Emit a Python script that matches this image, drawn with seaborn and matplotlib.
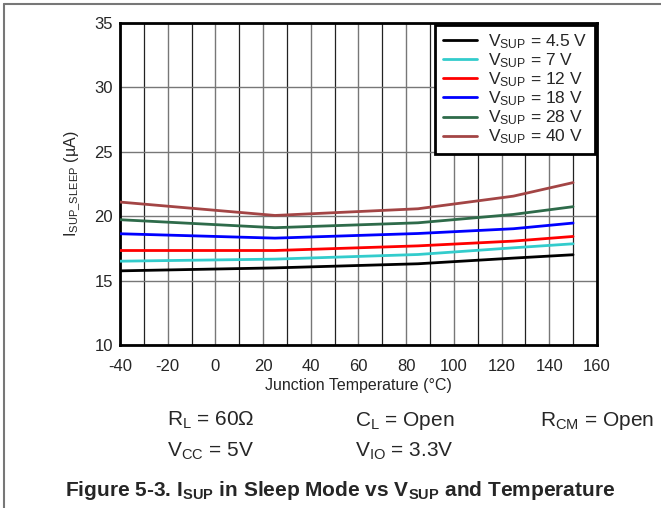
import matplotlib
matplotlib.use("Agg")
import matplotlib.pyplot as plt
import numpy as np
import pandas as pd
import seaborn as sns

sns.set_style("white")
plt.rcParams["font.family"] = ["Liberation Sans", "DejaVu Sans"]
plt.rcParams["mathtext.fontset"] = "custom"
plt.rcParams["mathtext.rm"] = "Liberation Sans"
plt.rcParams["mathtext.it"] = "Liberation Sans:italic"
plt.rcParams["mathtext.bf"] = "Liberation Sans:bold"
plt.rcParams["axes.unicode_minus"] = False

# data
temps = [-40, 25, 85, 125, 150]
vsup_labels = ["4.5", "7", "12", "18", "28", "40"]
i_45 = [15.75, 15.98, 16.30, 16.74, 17.00]
i_7 = [16.50, 16.66, 17.02, 17.54, 17.85]
i_12 = [17.33, 17.33, 17.69, 18.06, 18.42]
i_18 = [18.63, 18.29, 18.65, 19.02, 19.46]
i_28 = [19.72, 19.10, 19.48, 20.13, 20.73]
i_40 = [21.09, 20.05, 20.57, 21.55, 22.60]
series = [i_45, i_7, i_12, i_18, i_28, i_40]
colors = ["#000000", "#33cccc", "#ff0000", "#0000ff", "#2e6b4a", "#a34545"]

rows = []
for lab, vals in zip(vsup_labels, series):
    name = r"V$_{\mathrm{SUP}}$ = " + lab + " V"
    for t, v in zip(temps, vals):
        rows.append({"temp": t, "isup": v, "vsup": name})
df = pd.DataFrame(rows)
names = [r"V$_{\mathrm{SUP}}$ = " + lab + " V" for lab in vsup_labels]

fig = plt.figure(figsize=(6.61, 5.08), dpi=100)
ax = fig.add_axes([0.1815, 0.321, 0.7215, 0.634])

sns.lineplot(data=df, x="temp", y="isup", hue="vsup", hue_order=names,
             palette=colors, linewidth=2, ax=ax, zorder=3)

ax.set_xlim(-40, 160)
ax.set_ylim(10, 35)
ax.set_xticks(np.arange(-40, 161, 20))
ax.set_xticks(np.arange(-30, 160, 20), minor=True)
ax.set_yticks(np.arange(10, 36, 5))
ax.grid(True, which="major", axis="both", color="#777777", linewidth=1)
ax.grid(True, which="minor", axis="x", color="#222222", linewidth=0.9)
ax.tick_params(axis="both", which="both", length=0, labelsize=12)
ax.tick_params(axis="x", pad=10)
ax.tick_params(axis="y", pad=5)
for s in ax.spines.values():
    s.set_linewidth(2)
    s.set_color("black")

ax.set_xlabel("Junction Temperature (°C)", fontsize=11.5, labelpad=3)
ax.set_ylabel(r"I$_{\mathrm{SUP\_SLEEP}}$ (µA)", fontsize=11.5, labelpad=9)

leg = ax.legend(loc="upper right", bbox_to_anchor=(1.0, 1.0), fontsize=12.5,
                frameon=True, fancybox=False, framealpha=1, edgecolor="black",
                borderaxespad=0.1, handlelength=2.0, handletextpad=0.6,
                labelspacing=0.02, borderpad=0.45)
leg.get_frame().set_linewidth(2)

# conditions and caption
fs = 15
fig.text(167 / 661, 1 - 426 / 508, r"R$_{\mathrm{L}}$ = 60Ω", fontsize=fs, va="baseline")
fig.text(355 / 661, 1 - 426 / 508, r"C$_{\mathrm{L}}$ = Open", fontsize=fs, va="baseline")
fig.text(540 / 661, 1 - 426 / 508, r"R$_{\mathrm{CM}}$ = Open", fontsize=fs, va="baseline")
fig.text(167 / 661, 1 - 457 / 508, r"V$_{\mathrm{CC}}$ = 5V", fontsize=fs, va="baseline")
fig.text(355 / 661, 1 - 457 / 508, r"V$_{\mathrm{IO}}$ = 3.3V", fontsize=fs, va="baseline")
fig.text(340 / 661, 1 - 496 / 508,
         r"Figure 5-3. I$_{\mathbf{SUP}}$ in Sleep Mode vs V$_{\mathbf{SUP}}$ and Temperature",
         fontsize=15, fontweight="bold", ha="center", va="baseline")

# outer frame lines
fig.add_artist(plt.Line2D([4 / 661, 1], [1 - 4 / 508, 1 - 4 / 508], color="#777777", linewidth=1.5))
fig.add_artist(plt.Line2D([4 / 661, 4 / 661], [0, 1 - 4 / 508], color="#777777", linewidth=1.5))

fig.savefig("out.png", dpi=100)
